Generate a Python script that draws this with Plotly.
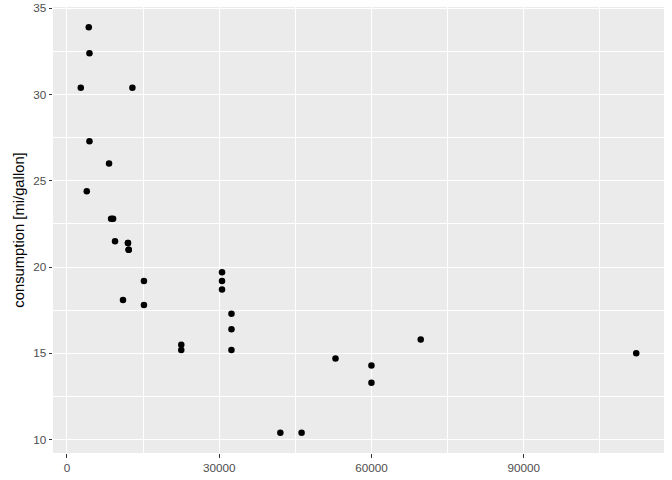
import plotly.graph_objects as go

x_vals = [4306, 4440, 2730, 12900, 4440, 8300, 3910, 8710, 9100, 9480, 12030, 12030,
          12170, 12170, 15180, 11050, 15180, 22530, 22530, 30560, 30560, 30560,
          32420, 32420, 32420, 42050, 46240, 52920, 60000, 60000, 69710, 112170]
mpg = [33.9, 32.4, 30.4, 30.4, 27.3, 26.0, 24.4, 22.8, 22.8, 21.5, 21.4, 21.4,
       21.0, 21.0, 19.2, 18.1, 17.8, 15.5, 15.2, 19.7, 19.2, 18.7,
       17.3, 16.4, 15.2, 10.4, 10.4, 14.7, 14.3, 13.3, 15.8, 15.0]

x_ticks = [0, 30000, 60000, 90000]
y_ticks = [10, 15, 20, 25, 30, 35]
y_title = "consumption [mi/gallon]"

xmin, xmax = min(x_vals), max(x_vals)
ymin, ymax = min(mpg), max(mpg)
xr = [xmin - 0.05 * (xmax - xmin), xmax + 0.05 * (xmax - xmin)]
yr = [ymin - 0.05 * (ymax - ymin), ymax + 0.05 * (ymax - ymin)]

fig = go.Figure(go.Scatter(x=x_vals, y=mpg, mode="markers",
                           marker=dict(color="black", size=6.5, line=dict(width=0)),
                           hoverinfo="skip"))

axis_common = dict(
    showgrid=True, gridcolor="white", gridwidth=1.1,
    zeroline=False, showline=False, automargin=False,
    ticks="outside", ticklen=3.5, tickwidth=1, tickcolor="#333333",
    tickfont=dict(family="Liberation Sans, Arial, sans-serif", size=11.7, color="#4D4D4D"),
)

fig.update_layout(
    width=672, height=480,
    margin=dict(l=53, r=8, t=7, b=27),
    paper_bgcolor="white", plot_bgcolor="#EBEBEB",
    showlegend=False,
    font=dict(family="Liberation Sans, Arial, sans-serif"),
    xaxis=dict(axis_common, range=xr, tickvals=x_ticks, ticktext=[str(v) for v in x_ticks],
               minor=dict(dtick=15000, tick0=15000, showgrid=True, gridcolor="white", gridwidth=0.55, ticks="")),
    yaxis=dict(axis_common, range=yr, tickvals=y_ticks, ticktext=[str(v) for v in y_ticks],
               minor=dict(dtick=2.5, tick0=12.5, showgrid=True, gridcolor="white", gridwidth=0.55, ticks=""),
               title=dict(text=y_title, font=dict(size=14.8, color="black"), standoff=4)),
)

fig.write_html("out.html", config={"displayModeBar": False},
               post_script="document.body.style.margin='0';")
